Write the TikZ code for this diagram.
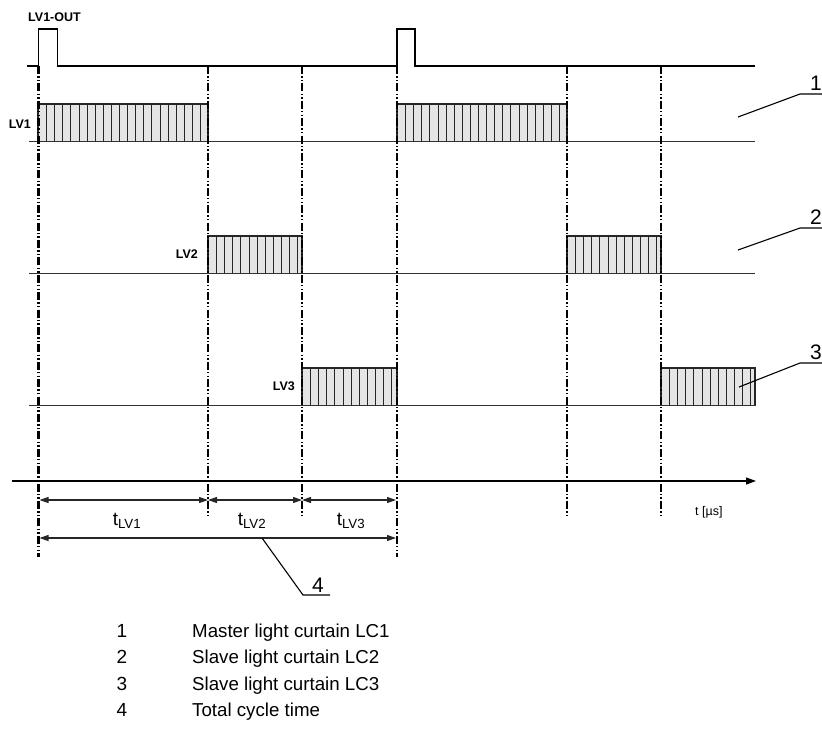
\documentclass[tikz,border=0pt]{standalone}
\usepackage{fontspec}
\setmainfont{Liberation Sans}
\usetikzlibrary{arrows.meta}
\begin{document}
\begin{tikzpicture}[x=1pt,y=-1pt,
  sig/.style={line width=1.8pt, black, line join=miter},
  baseln/.style={line width=1.2pt, black!80},
  ddot/.style={line width=2.3pt, black, dash pattern=on 8pt off 2.2pt on 1.4pt off 2.2pt on 1.4pt off 2.2pt},
  boxfill/.style={fill=black!10},
  boxline/.style={draw=black!85, line width=1.5pt},
  hatch/.style={line width=1pt, black!85},
  lvlab/.style={font=\bfseries\fontsize{12.5}{13}\selectfont, anchor=base east, inner sep=0pt},
  dim/.style={line width=1.1pt, black!85, {Triangle[length=9pt,width=6pt]}-{Triangle[length=9pt,width=6pt]}},
  leader/.style={line width=1.1pt, black},
  num/.style={font=\fontsize{21}{21}\selectfont, anchor=base, inner sep=0pt},
  tlab/.style={font=\fontsize{19}{19}\selectfont, anchor=base, inner sep=0pt},
  legend/.style={font=\fontsize{18.7}{19}\selectfont, anchor=base west, inner sep=0pt},
  legnum/.style={font=\fontsize{19}{19}\selectfont, anchor=base, inner sep=0pt}
]
\useasboundingbox (0,0) rectangle (822,729);

% pulse boxes with hatching
\foreach \l/\r/\t/\b in {38/208/104/141.5, 397/567/104/141.5, 208/302/236/273.5, 567/661/236/273.5, 302/397/368/405.5, 661/755/368/405.5}{
  \fill[boxfill] (\l,\t) rectangle (\r,\b);
  \begin{scope}
    \clip (\l,\t) rectangle (\r-2,\b);
    \foreach \k in {1,...,22}{
      \pgfmathsetmacro{\hx}{\l+round(8.1*\k)+0.5}
      \draw[hatch] (\hx,\t) -- (\hx,\b);
    }
  \end{scope}
  \draw[boxline] (\l,\t) rectangle (\r,\b);
}

% baselines
\draw[baseln] (29,141.5) -- (755,141.5);
\draw[baseln] (29,273.5) -- (755,273.5);
\draw[baseln] (29,405.5) -- (755,405.5);

% top signal
\draw[sig] (27,66) -- (38.5,66) -- (38.5,29) -- (57.5,29) -- (57.5,66) -- (397,66) -- (397,29) -- (415,29) -- (415,66) -- (755,66);

% dash-dot verticals
\foreach \x/\e in {38.5/557, 208/518, 302/518, 397/557, 567/518, 661/518}
  \draw[ddot] (\x,66) -- (\x,\e);

% time axis
\coordinate (ax0) at (12,481);
\coordinate (ax1) at (756,481);
\draw[line width=1.2pt, black, -{Triangle[length=10pt,width=7pt]}] (ax0) -- (ax1);
\node[font=\fontsize{12.5}{13}\selectfont, anchor=base west, inner sep=0pt] (tunit) at (695,515) {t [µs]};

% dimension arrows
\coordinate (d0) at (39.5,500);
\coordinate (d1) at (208,500);
\coordinate (d2) at (302,500);
\coordinate (d3) at (396,500);
\draw[dim] (d0) -- (d1);
\draw[dim] (d1) -- (d2);
\draw[dim] (d2) -- (d3);
\coordinate (tot0) at (39.5,538);
\coordinate (tot1) at (396,538);
\draw[dim] (tot0) -- (tot1);

\node[tlab] (tl1) at (127,525) {t\textsubscript{LV1}};
\node[tlab] (tl2) at (252,525) {t\textsubscript{LV2}};
\node[tlab] (tl3) at (351,525) {t\textsubscript{LV3}};

% labels
\node[font=\bfseries\fontsize{12.5}{13}\selectfont, anchor=base west, inner sep=0pt] (out) at (28,21) {LV1-OUT};
\node[lvlab] (lv1) at (31,128.5) {LV1};
\node[lvlab] (lv2) at (198,258.5) {LV2};
\node[lvlab] (lv3) at (295,390.5) {LV3};

% leaders with numbers
\coordinate (p1a) at (738,117);
\coordinate (p1b) at (800,94);
\coordinate (p1c) at (822,94);
\draw[leader] (p1a) -- (p1b) -- (p1c);
\node[num] (n1) at (816,90) {1};

\coordinate (p2a) at (738,250);
\coordinate (p2b) at (800,228);
\coordinate (p2c) at (822,228);
\draw[leader] (p2a) -- (p2b) -- (p2c);
\node[num] (n2) at (816,224) {2};

\coordinate (p3a) at (739,387);
\coordinate (p3b) at (800,363);
\coordinate (p3c) at (822,363);
\draw[leader] (p3a) -- (p3b) -- (p3c);
\node[num] (n3) at (816,359) {3};

\coordinate (p4a) at (262,538);
\coordinate (p4b) at (303,595);
\coordinate (p4c) at (330,595);
\draw[leader] (p4a) -- (p4b) -- (p4c);
\node[num] (n4) at (318,592) {4};

% legend
\node[legnum] (l1) at (122,637) {1};
\node[legend] (t1) at (192,637) {Master light curtain LC1};
\node[legnum] (l2) at (122,663.5) {2};
\node[legend] (t2) at (192,663.5) {Slave light curtain LC2};
\node[legnum] (l3) at (122,690) {3};
\node[legend] (t3) at (192,690) {Slave light curtain LC3};
\node[legnum] (l4) at (122,716.5) {4};
\node[legend] (t4) at (192,716.5) {Total cycle time};
\end{tikzpicture}
\end{document}
